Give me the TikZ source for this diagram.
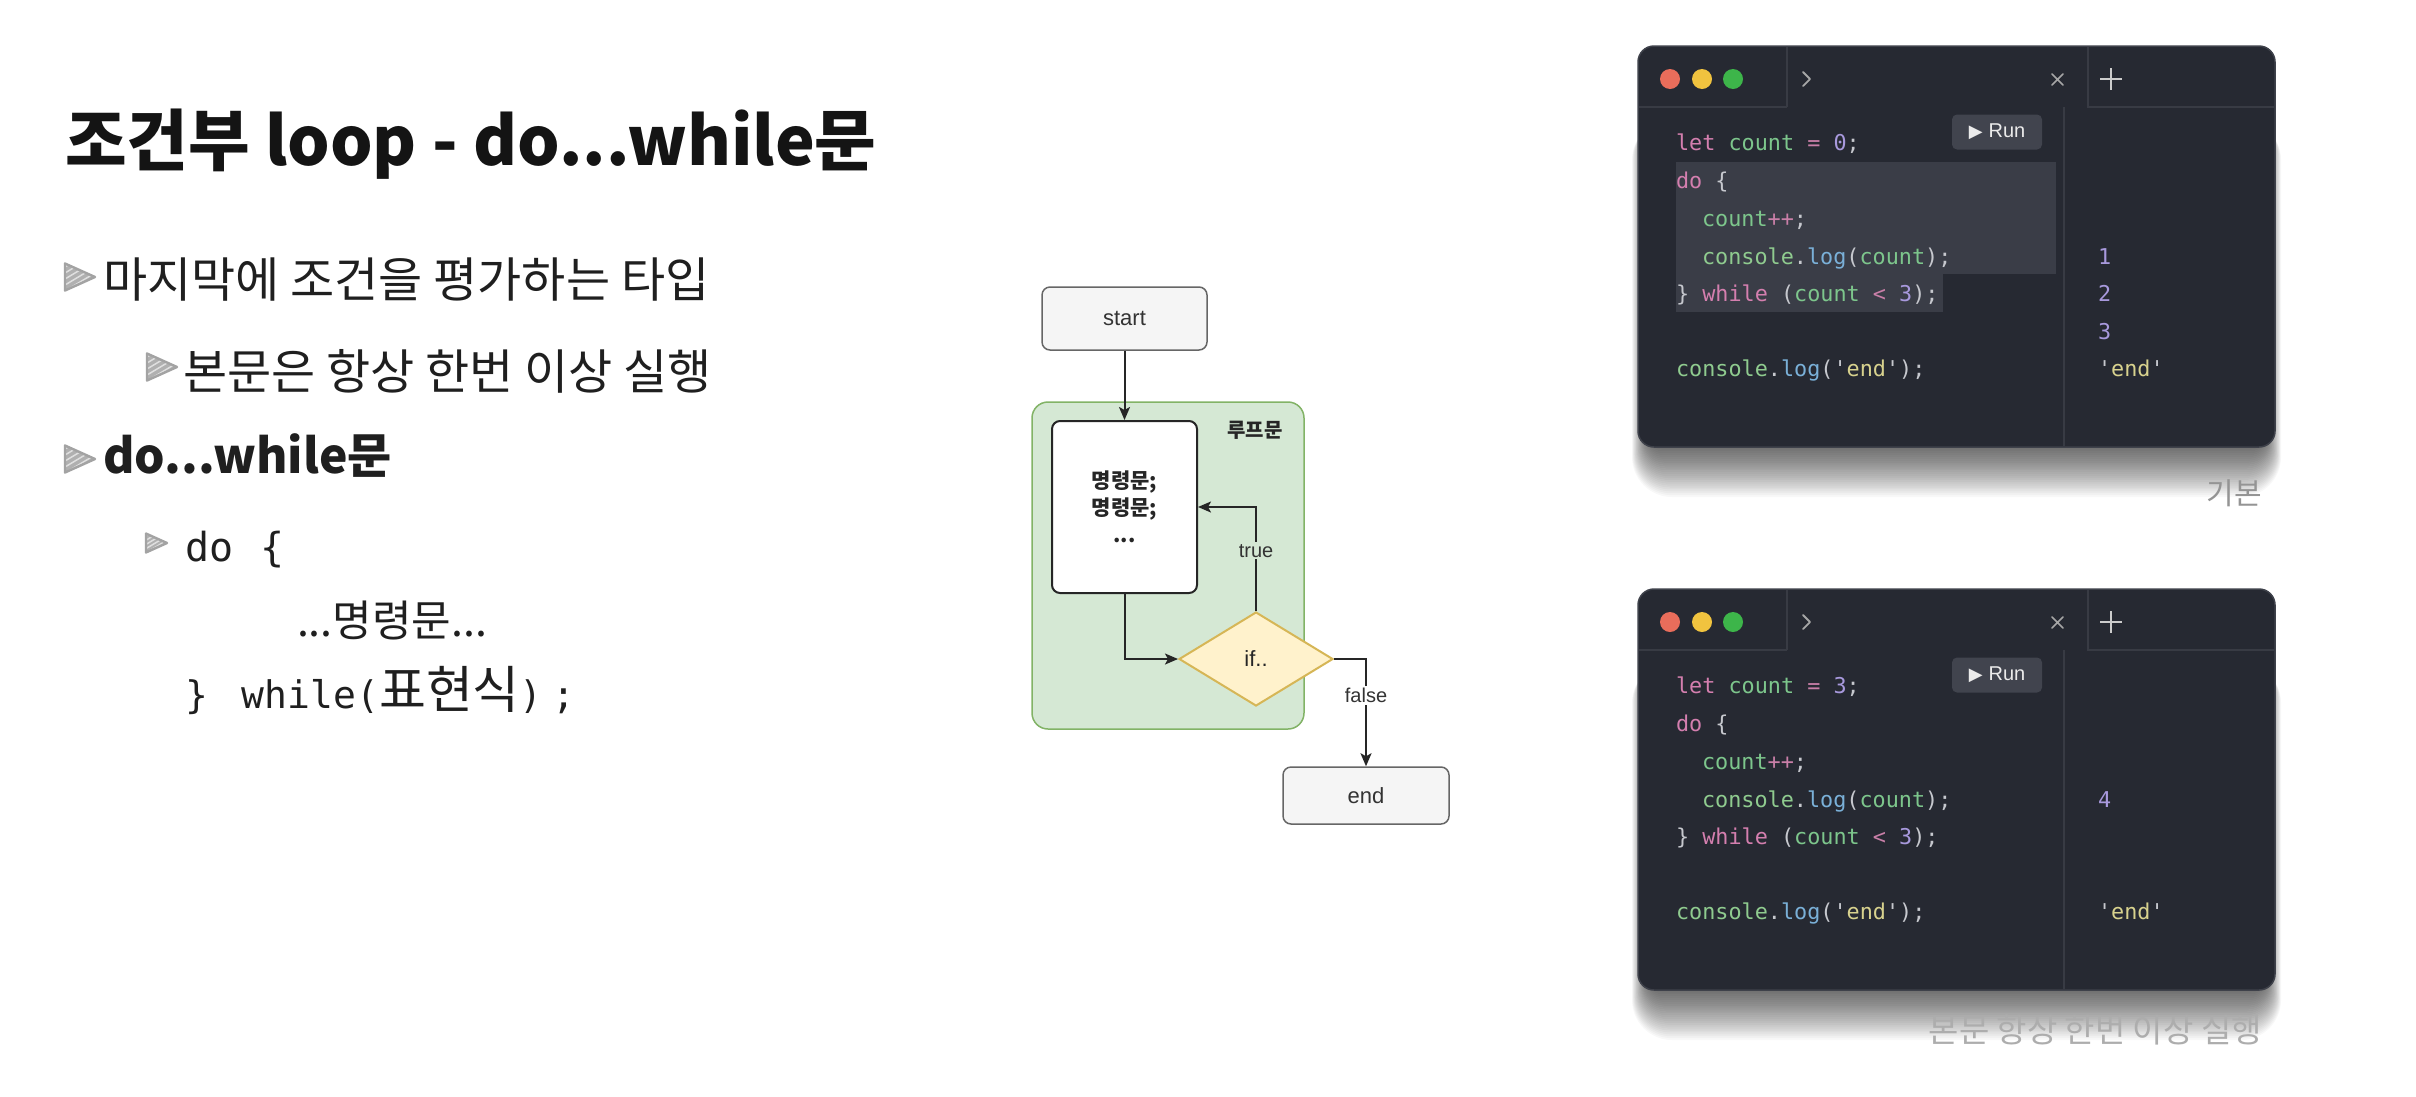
\documentclass[tikz,border=0pt]{standalone}
\usepackage{fontspec}
\usetikzlibrary{shapes.geometric,arrows.meta}
\setmainfont{Liberation Sans}
\newfontfamily\kr{Noto Sans CJK KR}
\newfontfamily\monofnt{DejaVu Sans Mono}[Ligatures=TeXOff]
\newfontfamily\codefnt{DejaVu Sans Mono}[Ligatures=TeXOff]
\newfontfamily\djv{DejaVu Sans}

\definecolor{fgray}{HTML}{666666}
\definecolor{fbg}{HTML}{F5F5F5}
\definecolor{ggreen}{HTML}{82B366}
\definecolor{gfill}{HTML}{D5E8D4}
\definecolor{dyel}{HTML}{D6B656}
\definecolor{dfill}{HTML}{FFF2CC}
\definecolor{winbg}{HTML}{262932}
\definecolor{winbd}{HTML}{3E414A}
\definecolor{tbl}{HTML}{383B44}
\definecolor{hlc}{HTML}{3A3D47}
\definecolor{btn}{HTML}{41444E}
\definecolor{ckw}{HTML}{D47FAF}
\definecolor{cid}{HTML}{7DC68C}
\definecolor{ccon}{HTML}{8FCB8F}
\definecolor{clog}{HTML}{7AB0D8}
\definecolor{cnum}{HTML}{A899DD}
\definecolor{cstr}{HTML}{D8D28E}
\definecolor{cpun}{HTML}{C6C8CE}
\definecolor{cop}{HTML}{C97FA8}
\definecolor{dred}{HTML}{E96D5B}
\definecolor{dyl}{HTML}{F1C33F}
\definecolor{dgr}{HTML}{3DB54A}

\newcommand\fs[1]{\fontsize{#1}{#1}\selectfont}
\newcommand\Ckw[1]{\textcolor{ckw}{#1}}
\newcommand\Cid[1]{\textcolor{cid}{#1}}
\newcommand\Ccon[1]{\textcolor{ccon}{#1}}
\newcommand\Clog[1]{\textcolor{clog}{#1}}
\newcommand\Cnum[1]{\textcolor{cnum}{#1}}
\newcommand\Cstr[1]{\textcolor{cstr}{#1}}
\newcommand\Cpun[1]{\textcolor{cpun}{#1}}
\newcommand\Cop[1]{\textcolor{cop}{#1}}

\tikzset{
  txt/.style={anchor=base west, inner sep=0pt, outer sep=0pt, text=black!88},
  fcbox/.style={rectangle, draw=fgray, fill=fbg, rounded corners=8pt, line width=1.5pt, inner sep=0pt, text=black!80, font=\fs{22}},
  grp/.style={rectangle, draw=ggreen, fill=gfill, rounded corners=16pt, line width=1.5pt, inner sep=0pt},
  stmt/.style={rectangle, draw=black!85, fill=white, rounded corners=8pt, line width=2pt, inner sep=0pt, align=center, font=\kr\bfseries\fontsize{21}{27}\selectfont, text=black!85},
  cond/.style={diamond, draw=dyel, fill=dfill, line width=2pt, inner sep=0pt, font=\fs{22}, text=black!85},
  flow/.style={draw=black!85, line width=2pt, -{Stealth[length=13pt,width=11pt,inset=3pt]}},
  lab/.style={font=\fs{20}, text=black!80, inner sep=2pt},
  win/.style={rectangle, rounded corners=16pt, minimum width=637pt, minimum height=401pt, fill=winbg, draw=winbd, line width=1.5pt, inner sep=0pt},
  tbline/.style={draw=tbl, line width=1.5pt},
  code/.style={anchor=base west, inner sep=0pt, outer sep=0pt, font=\codefnt\fs{21.8}, text=cpun},
  runbtn/.style={rectangle, fill=btn, rounded corners=5pt, minimum width=90pt, minimum height=35pt, inner sep=0pt, text=white!92!black, font=\fs{20}},
  captxt/.style={anchor=base east, inner sep=0pt},
  bul/.pic={
    \path[fill=gray!62] (0,-13.5) -- (30,0) -- (0,13.5) -- cycle;
    \begin{scope}
      \clip (0,-13.5) -- (30,0) -- (0,13.5) -- cycle;
      \foreach \k in {-24,-18,...,32} \draw[white!75!gray, line width=1.5pt] (0,\k+14) -- (30,\k-4);
    \end{scope}
    \draw[gray!72, line width=2.4pt, line join=round] (0,-13.5) -- (30,0) -- (0,13.5) -- cycle;
  }
}

\newcommand\winframe[1]{%
  \foreach \i in {1,...,30} \fill[black, opacity=0.027, rounded corners={10pt+\i pt}] ({1650-0.6*\i},120) rectangle ({2263+0.6*\i},{440+1.9*\i});
  \node[win] (#1win) at (1956.5,246.5) {};
  \draw[tbline] (1639,107) -- (1787,107) (1787,47) -- (1787,107);
  \draw[tbline] (2088,47) -- (2088,107) -- (2274,107);
  \draw[tbline] (2064,107) -- (2064,446);
  \fill[dred] (1670,79) circle[radius=10];
  \fill[dyl] (1702,79) circle[radius=10];
  \fill[dgr] (1733,79) circle[radius=10];
  \draw[gray!70, line width=1.8pt, line cap=round, line join=round] (1803,72) -- (1810,79) -- (1803,86);
  \draw[gray!70, line width=1.6pt, line cap=round] (2052,74) -- (2063,85) (2052,85) -- (2063,74);
  \draw[white!80!black, line width=2.6pt] (2100,79) -- (2122,79) (2111,68) -- (2111,90);
  \node[runbtn] (#1run) at (1997,132) {{\djv\fs{18}▶}\hspace{6pt}Run};
}

\begin{document}
\begin{tikzpicture}[x=1pt,y=-1pt]
\useasboundingbox (0,0) rectangle (2416,1096);
\fill[white] (0,0) rectangle (2416,1096);

% ---------- left text ----------
\node[txt, font=\kr\bfseries\fs{67}, text=black!92] (title) at (65,165) {조건부 loop - do...while문};
\pic at (65,277) {bul};
\node[txt, font=\kr\fs{48}] (b1) at (103,297) {마지막에 조건을 평가하는 타입};
\pic at (147,367) {bul};
\node[txt, font=\kr\fs{48}] (b2) at (183,389) {본문은 항상 한번 이상 실행};
\pic at (65,459) {bul};
\node[txt, font=\kr\bfseries\fs{48}] (b3) at (103,473) {do...while문};
\pic[scale=0.7] at (146,543) {bul};
\node[txt, font=\monofnt\fs{40}] (b4) at (185,561) {do\hspace{27pt}\{};
\node[txt, font=\kr\fs{43}] (b5) at (297,636) {...명령문...};
\node[txt, font=\monofnt\fs{38}] (b6) at (185,708) {\}\hspace{34pt}while({\kr\fs{51}표현식})\hspace{10pt};};

% ---------- flowchart ----------
\node[grp, minimum width=272pt, minimum height=327pt] (loop) at (1168,565.5) {};
\node[font=\kr\bfseries\fs{20}, text=black!85, inner sep=0pt] (looplab) at (1255,430) {루프문};
\node[fcbox, minimum width=165pt, minimum height=63pt] (start) at (1124.5,318.5) {start};
\node[stmt, minimum width=145pt, minimum height=172pt] (body) at (1124.5,507) {명령문;\\명령문;\\...};
\node[cond, minimum width=154pt, minimum height=94pt] (dia) at (1256,659) {if..};
\node[fcbox, minimum width=166pt, minimum height=57pt] (endn) at (1366,795.5) {end};

\draw[flow] (start.south) -- (body.north);
\draw[flow] (body.south) |- (dia.west);
\draw[flow] (dia.north) |- (body.east) node[lab, pos=0.29, fill=gfill] {true};
\draw[flow] (dia.east) -| (endn.north) node[lab, pos=0.67, fill=white] {false};

% ---------- window 1 ----------
\winframe{a}
\fill[hlc] (1676,162) rectangle (2056,274);
\fill[hlc] (1676,274) rectangle (1943,312);
\node[code] (a1) at (1676,150) {\Ckw{let} \Cid{count} \Cop{=} \Cnum{0}\Cpun{;}};
\node[code] (a2) at (1676,188) {\Ckw{do} \Cpun{\{}};
\node[code] (a3) at (1702,226) {\Cid{count}\Cop{++}\Cpun{;}};
\node[code] (a4) at (1702,264) {\Ccon{console}\Cpun{.}\Clog{log}\Cpun{(}\Cid{count}\Cpun{);}};
\node[code] (a5) at (1676,301) {\Cpun{\}} \Ckw{while} \Cpun{(}\Cid{count} \Cop{<} \Cnum{3}\Cpun{);}};
\node[code] (a6) at (1676,376) {\Ccon{console}\Cpun{.}\Clog{log}\Cpun{('}\Cstr{end}\Cpun{');}};
\node[code] (ao1) at (2098,264) {\Cnum{1}};
\node[code] (ao2) at (2098,301) {\Cnum{2}};
\node[code] (ao3) at (2098,339) {\Cnum{3}};
\node[code] (ao4) at (2098,376) {\Cpun{'}\Cstr{end}\Cpun{'}};
\node[captxt, font=\kr\fs{30}, text=black!42] (capa) at (2262,504) {기본};

% ---------- window 2 ----------
\begin{scope}[yshift=-543pt]
\winframe{b}
\node[code] (c1) at (1676,150) {\Ckw{let} \Cid{count} \Cop{=} \Cnum{3}\Cpun{;}};
\node[code] (c2) at (1676,188) {\Ckw{do} \Cpun{\{}};
\node[code] (c3) at (1702,226) {\Cid{count}\Cop{++}\Cpun{;}};
\node[code] (c4) at (1702,264) {\Ccon{console}\Cpun{.}\Clog{log}\Cpun{(}\Cid{count}\Cpun{);}};
\node[code] (c5) at (1676,301) {\Cpun{\}} \Ckw{while} \Cpun{(}\Cid{count} \Cop{<} \Cnum{3}\Cpun{);}};
\node[code] (c6) at (1676,376) {\Ccon{console}\Cpun{.}\Clog{log}\Cpun{('}\Cstr{end}\Cpun{');}};
\node[code] (co1) at (2098,264) {\Cnum{4}};
\node[code] (co4) at (2098,376) {\Cpun{'}\Cstr{end}\Cpun{'}};
\node[captxt, font=\kr\fs{33}, text=black!32] (capb) at (2262,499) {본문 항상 한번 이상 실행};
\end{scope}
\end{tikzpicture}
\end{document}
